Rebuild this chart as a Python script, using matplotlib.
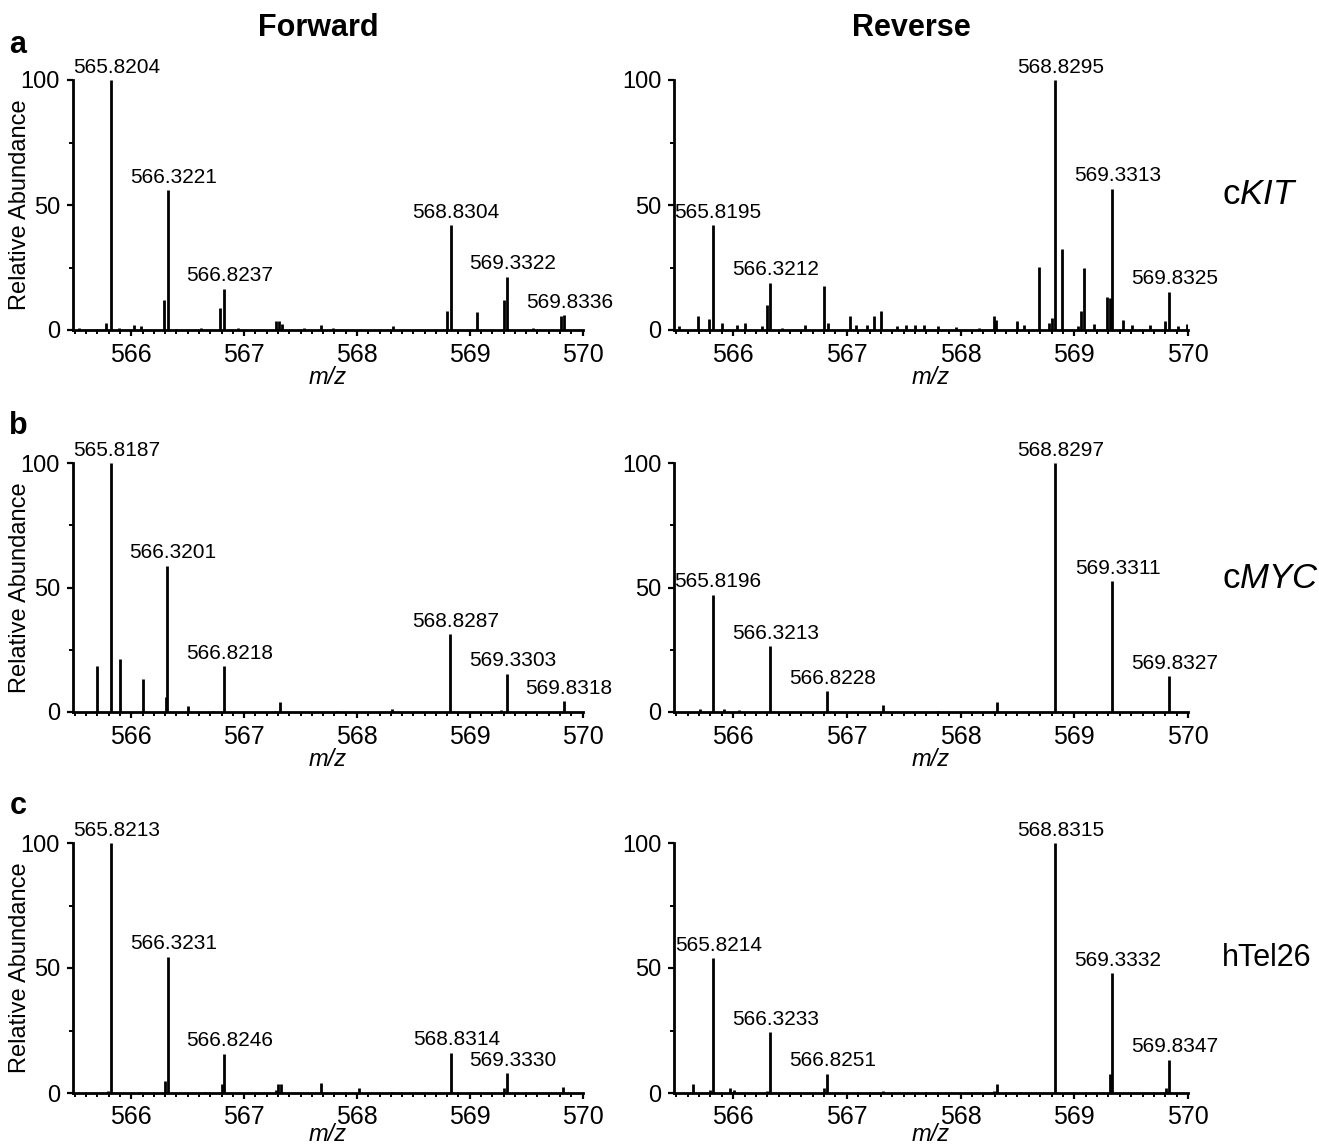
import numpy as np
import matplotlib.pyplot as plt
from matplotlib.ticker import MultipleLocator

plt.rcParams['font.family'] = ['Liberation Sans', 'DejaVu Sans']
plt.rcParams['mathtext.fontset'] = 'custom'
plt.rcParams['mathtext.rm'] = 'Liberation Sans'
plt.rcParams['mathtext.it'] = 'Liberation Sans:italic'

# a - cKIT, forward
a_fwd_mz = [565.54, 565.70, 565.78, 565.8204, 565.89, 566.02, 566.09, 566.29, 566.3221,
            566.40, 566.62, 566.79, 566.8237, 566.95, 567.28, 567.31, 567.34, 567.53,
            567.68, 567.79, 568.32, 568.80, 568.8304, 569.06, 569.30, 569.3322, 569.56,
            569.81, 569.8336]
a_fwd_int = [0.8, 0.6, 3.0, 100, 1.0, 2.0, 1.8, 12, 56, 0.5, 1.0, 8.7, 16.5, 0.8, 3.8,
             3.5, 2.5, 0.8, 2.0, 1.0, 1.8, 7.7, 42, 7.3, 12, 21.3, 0.8, 5.5, 6.0]
a_fwd_lab = ['565.8204', '566.3221', '566.8237', '568.8304', '569.3322', '569.8336']

# a - cKIT, reverse
a_rev_mz = [565.52, 565.69, 565.79, 565.8195, 565.90, 566.03, 566.10, 566.25, 566.30,
            566.3212, 566.43, 566.63, 566.80, 566.83, 567.03, 567.08, 567.18, 567.24,
            567.30, 567.44, 567.52, 567.60, 567.68, 567.80, 567.96, 568.16, 568.29,
            568.31, 568.50, 568.56, 568.69, 568.78, 568.80, 568.8295, 568.89, 569.03,
            569.06, 569.085, 569.17, 569.29, 569.31, 569.3313, 569.43, 569.51, 569.67,
            569.80, 569.8325, 569.91, 569.99]
a_rev_int = [1.5, 5.6, 4.5, 42, 3.0, 2.0, 3.0, 1.5, 10, 19, 1.0, 2.0, 17.7, 3.0, 5.5,
             2.0, 2.0, 5.5, 7.5, 1.5, 2.0, 2.0, 2.2, 1.5, 1.2, 1.0, 5.5, 4.0, 3.5, 2.0,
             25.3, 3.0, 5.0, 100, 32.6, 1.5, 7.7, 25, 2.5, 13.3, 13, 56.5, 4.0, 2.0,
             2.0, 3.7, 15.3, 1.5, 2.5]
a_rev_lab = ['565.8195', '566.3212', '568.8295', '569.3313', '569.8325']

# b - cMYC, forward
b_fwd_mz = [565.70, 565.8187, 565.898, 566.10, 566.31, 566.3201, 566.50, 566.72,
            566.8218, 567.27, 567.32, 567.82, 568.31, 568.8287, 569.28, 569.3303, 569.8318]
b_fwd_int = [18.5, 100, 21.2, 13.4, 6.0, 58.7, 2.5, 0.5, 18.4, 0.5, 4.0, 0.6, 1.3,
             31.3, 1.0, 15.4, 4.4]
b_fwd_lab = ['565.8187', '566.3201', '566.8218', '568.8287', '569.3303', '569.8318']

# b - cMYC, reverse
b_rev_mz = [565.71, 565.8196, 565.92, 566.05, 566.3213, 566.8228, 567.32, 567.80,
            568.32, 568.8297, 569.3311, 569.8327]
b_rev_int = [1.3, 47, 1.3, 0.8, 26.4, 8.3, 3.0, 0.5, 4.0, 100, 52.5, 14.3]
b_rev_lab = ['565.8196', '566.3213', '566.8228', '568.8297', '569.3311', '569.8327']

# c - hTel26, forward
c_fwd_mz = [565.79, 565.8213, 566.08, 566.30, 566.3231, 566.65, 566.80, 566.8246,
            567.28, 567.30, 567.33, 567.685, 568.02, 568.31, 568.8314, 569.30,
            569.3330, 569.83]
c_fwd_int = [1.0, 100, 0.5, 5.0, 54.5, 0.6, 3.6, 15.7, 1.3, 3.7, 3.5, 4.0, 2.0, 0.6,
             16.2, 2.0, 8.0, 2.4]
c_fwd_lab = ['565.8213', '566.3231', '566.8246', '568.8314', '569.3330']

# c - hTel26, reverse
c_rev_mz = [565.65, 565.80, 565.8214, 565.97, 566.01, 566.30, 566.3233, 566.80,
            566.8251, 567.32, 567.70, 568.29, 568.32, 568.52, 568.8315, 569.31,
            569.3332, 569.81, 569.8347]
c_rev_int = [3.7, 1.3, 53.9, 2.0, 1.3, 1.0, 24.3, 2.0, 7.7, 1.0, 0.6, 1.0, 3.7, 0.6,
             100, 7.6, 48, 2.0, 13.3]
c_rev_lab = ['565.8214', '566.3233', '566.8251', '568.8315', '569.3332', '569.8347']

row_letters = ['a', 'b', 'c']
gene_names = ['c$\\mathit{KIT}$', 'c$\\mathit{MYC}$', 'hTel26']

W, H = 1319, 1148
fig = plt.figure(figsize=(W / 100, H / 100), dpi=100)

col_x = [(72.6, 510), (674, 514)]     # left px, width px
row_y = [(330, 250), (712, 249), (1093, 250)]  # bottom px, height px

data = [[(a_fwd_mz, a_fwd_int, a_fwd_lab), (a_rev_mz, a_rev_int, a_rev_lab)],
        [(b_fwd_mz, b_fwd_int, b_fwd_lab), (b_rev_mz, b_rev_int, b_rev_lab)],
        [(c_fwd_mz, c_fwd_int, c_fwd_lab), (c_rev_mz, c_rev_int, c_rev_lab)]]

for r in range(3):
    for c in range(2):
        mz, inten, labs = data[r][c]
        x0, w = col_x[c]
        y0, h = row_y[r]
        ax = fig.add_axes([x0 / W, 1 - y0 / H, w / W, h / H])
        ax.vlines(mz, 0, inten, color='black', lw=2.0)
        mz_arr = np.array(mz)
        for lab in labs:
            i = int(np.argmin(np.abs(mz_arr - float(lab))))
            ax.annotate(lab, (mz[i], inten[i]), xytext=(4, 2.5),
                        textcoords='offset points', ha='center', va='bottom',
                        fontsize=15, annotation_clip=False)
        ax.set_xlim(565.48, 570.0)
        ax.set_ylim(0, 100)
        ax.set_xticks([566, 567, 568, 569, 570])
        ax.set_yticks([0, 50, 100])
        ax.xaxis.set_minor_locator(MultipleLocator(0.1))
        ax.yaxis.set_minor_locator(MultipleLocator(25))
        ax.spines['top'].set_visible(False)
        ax.spines['right'].set_visible(False)
        ax.spines['left'].set_linewidth(2.0)
        ax.spines['bottom'].set_linewidth(2.0)
        ax.tick_params(which='major', direction='out', length=4, width=1.6)
        ax.tick_params(which='minor', direction='out', length=3, width=1.4)
        ax.tick_params(axis='x', which='major', labelsize=18, pad=5)
        ax.tick_params(axis='y', which='major', labelsize=17, pad=5)
        # last row sits at the bottom edge, pull its label up a bit so it fits
        ax.set_xlabel('m/z', style='italic', fontsize=17, labelpad=-5 if r == 2 else 0)
        if c == 0:
            fig.text(20 / W, 1 - (y0 - h / 2) / H, 'Relative Abundance', fontsize=17,
                     rotation=90, ha='center', va='center')

fig.text(318 / W, 1 - 28 / H, 'Forward', fontsize=22, weight='bold', ha='center', va='center')
fig.text(911 / W, 1 - 28 / H, 'Reverse', fontsize=22, weight='bold', ha='center', va='center')

gene_sizes = [25, 25, 22]
for r, (ly, gy) in enumerate([(45, 195), (426, 578), (806, 958)]):
    fig.text(18 / W, 1 - ly / H, row_letters[r], fontsize=22, weight='bold',
             ha='center', va='center')
    fig.text(1222 / W, 1 - gy / H, gene_names[r], fontsize=gene_sizes[r],
             ha='left', va='center')

fig.savefig('out.png', dpi=100)
